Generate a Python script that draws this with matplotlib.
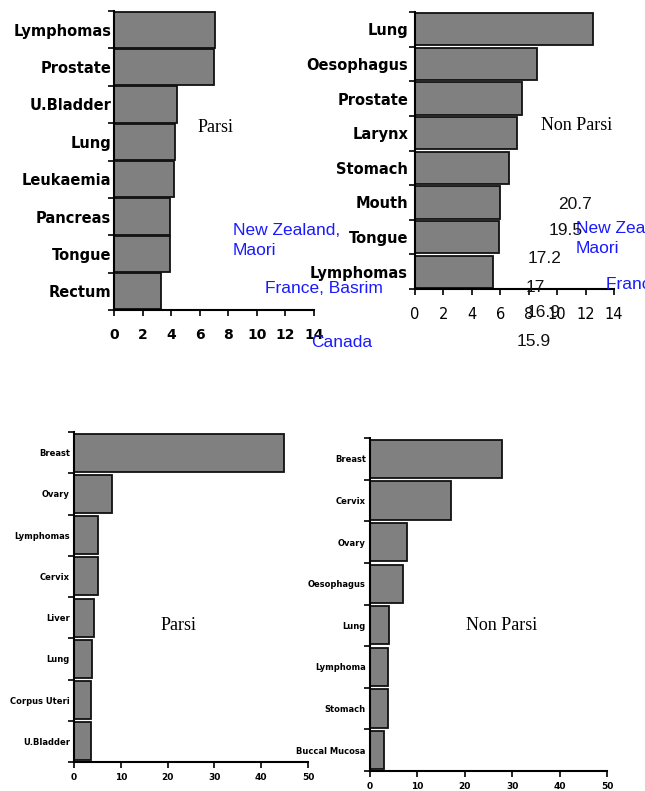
import numpy as np
import matplotlib
matplotlib.use('Agg')
import matplotlib.pyplot as plt

W, H = 645, 791

# --- data ---------------------------------------------------------------
male_parsi_sites = ['Lymphomas', 'Prostate', 'U.Bladder', 'Lung', 'Leukaemia',
                    'Pancreas', 'Tongue', 'Rectum']
male_parsi_vals = [7.1, 7.0, 4.4, 4.3, 4.2, 3.9, 3.9, 3.3]

male_nonparsi_sites = ['Lung', 'Oesophagus', 'Prostate', 'Larynx', 'Stomach',
                       'Mouth', 'Tongue', 'Lymphomas']
male_nonparsi_vals = [12.5, 8.6, 7.5, 7.2, 6.6, 6.0, 5.9, 5.5]

female_parsi_sites = ['Breast', 'Ovary', 'Lymphomas', 'Cervix', 'Liver', 'Lung',
                      'Corpus Uteri', 'U.Bladder']
female_parsi_vals = [44.9, 8.2, 5.2, 5.2, 4.3, 3.9, 3.6, 3.6]

female_nonparsi_sites = ['Breast', 'Cervix', 'Ovary', 'Oesophagus', 'Lung',
                         'Lymphoma', 'Stomach', 'Buccal Mucosa']
female_nonparsi_vals = [27.8, 17.0, 7.9, 7.0, 4.0, 3.7, 3.7, 3.0]

top_ticks = [0, 2, 4, 6, 8, 10, 12, 14]
bottom_ticks = [0, 10, 20, 30, 40, 50]

# stray labels left over from another chart on the slide
blue_labels = ['New Zealand,\nMaori', 'France, Basrim', 'Canada',
               'New Zealand,\nMaori', 'France, Basrim']
number_labels = ['20.7', '19.5', '17.2', '17', '16.9', '15.9']

BAR = '#808080'
EDGE = '#111111'
BLUE = '#1a1aff'


def px_axes(left, right, top, bottom):
    return fig.add_axes([left / W, 1 - bottom / H, (right - left) / W, (bottom - top) / H])


def hbar_panel(ax, sites, vals, xmax, ticks, bar_h, ylab_size, ylab_pad,
               xtick_size, xtick_weight, xtick_pad):
    y = np.arange(len(sites))
    ax.barh(y, vals, height=bar_h, color=BAR, edgecolor=EDGE, linewidth=1.3)
    ax.set_xlim(0, xmax)
    ax.set_ylim(len(sites) - 0.5, -0.5)
    ax.set_xticks(ticks)
    ax.set_xticklabels([str(t) for t in ticks], fontsize=xtick_size,
                       fontweight=xtick_weight, family='DejaVu Sans')
    ax.set_yticks(y)
    ax.set_yticklabels(sites, fontsize=ylab_size, fontweight='bold', family='DejaVu Sans')
    ax.set_yticks(np.arange(len(sites) + 1) - 0.5, minor=True)
    ax.tick_params(axis='y', which='major', length=0, pad=ylab_pad)
    ax.tick_params(axis='y', which='minor', length=4, width=1.2, direction='out')
    ax.tick_params(axis='x', length=4, width=1.2, direction='out', pad=xtick_pad)
    for s in ['top', 'right']:
        ax.spines[s].set_visible(False)
    for s in ['left', 'bottom']:
        ax.spines[s].set_linewidth(1.5)
        ax.spines[s].set_color('black')
    ax.set_facecolor('none')


fig = plt.figure(figsize=(W / 100, H / 100), dpi=100)

ax1 = px_axes(114, 314, 11, 310)
hbar_panel(ax1, male_parsi_sites, male_parsi_vals, 14, top_ticks, 0.97, 10.5, 2, 10, 'bold', 9)

ax2 = px_axes(415, 614, 12, 289)
hbar_panel(ax2, male_nonparsi_sites, male_nonparsi_vals, 14, top_ticks, 0.93, 10.5, 5, 10.5, 'normal', 9)

ax3 = px_axes(74, 308, 432, 762)
hbar_panel(ax3, female_parsi_sites, female_parsi_vals, 50, bottom_ticks, 0.92, 6, 3, 6.5, 'bold', 4)

ax4 = px_axes(370, 607, 438, 771)
hbar_panel(ax4, female_nonparsi_sites, female_nonparsi_vals, 50, bottom_ticks, 0.92, 6, 3, 6.5, 'bold', 4)

# group names
serif = 'Liberation Serif'
fig.text(215 / W, 1 - 128 / H, 'Parsi', fontsize=13, family=serif, ha='center', va='center')
fig.text(577 / W, 1 - 126 / H, 'Non Parsi', fontsize=13, family=serif, ha='center', va='center')
fig.text(178 / W, 1 - 625 / H, 'Parsi', fontsize=13, family=serif, ha='center', va='center')
fig.text(502 / W, 1 - 625 / H, 'Non Parsi', fontsize=13, family=serif, ha='center', va='center')

# stray blue country labels (left edge, baseline of first line)
blue_pos = [(233, 235), (265, 293), (311, 347), (576, 233), (606, 289)]
for txt, (x, yb) in zip(blue_labels, blue_pos):
    fig.text(x / W, 1 - yb / H, txt.split('\n')[0], fontsize=12.5,
             family='Liberation Sans', color=BLUE, ha='left', va='baseline')
    if '\n' in txt:
        fig.text(x / W, 1 - (yb + 20) / H, txt.split('\n')[1], fontsize=12.5,
                 family='Liberation Sans', color=BLUE, ha='left', va='baseline')

# stray numbers
num_pos = [(558, 209), (549, 235), (528, 263), (526, 292), (527, 317), (517, 346)]
for txt, (x, yb) in zip(number_labels, num_pos):
    fig.text(x / W, 1 - yb / H, txt, fontsize=12.5, family='Liberation Sans',
             color='#111111', ha='left', va='baseline')

fig.savefig('out.png', dpi=100)
